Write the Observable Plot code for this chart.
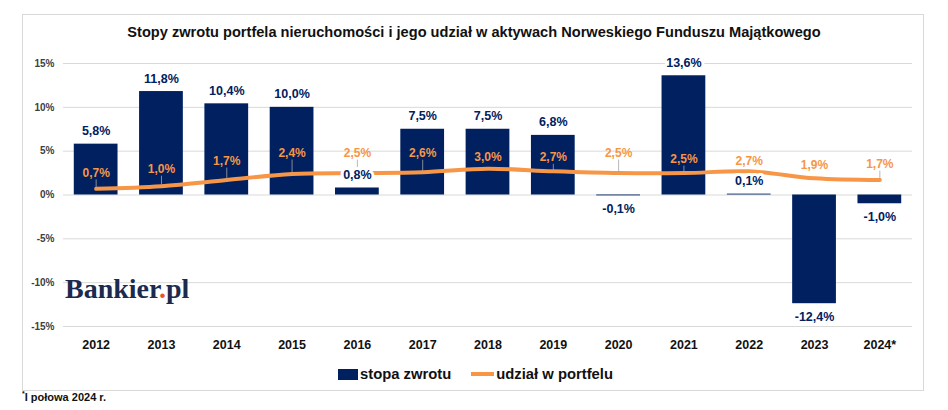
<!DOCTYPE html>
<html>
<head>
<meta charset="utf-8">
<script src="https://cdn.jsdelivr.net/npm/d3@7"></script>
<script src="https://cdn.jsdelivr.net/npm/@observablehq/plot@0.6"></script>
<style>
  html, body { margin: 0; padding: 0; background: #fff; }
  body { width: 948px; height: 410px; position: relative; overflow: hidden; font-family: "Liberation Sans", Arial, sans-serif; }
  #frame { position: absolute; left: 22px; top: 14px; width: 902px; height: 377px; border: 1px solid #d9d9d9; box-sizing: border-box; }
  #title { position: absolute; left: 0; width: 948px; top: 23px; text-align: center; font-size: 14.6px; font-weight: bold; color: #111; line-height: 18px; }
  #chart { position: absolute; left: 0; top: 45px; }
  #logo { position: absolute; left: 65px; top: 275px; font-family: "Liberation Serif", "DejaVu Serif", serif; font-weight: bold; font-size: 28px; line-height: 28px; color: #1b2a4e; letter-spacing: 0px; }
  #logo .dot { color: #e8532b; }
  #legend { position: absolute; left: 338px; top: 365px; display: flex; align-items: center; font-size: 14.8px; font-weight: bold; color: #111; line-height: 18px; }
  #legend .sw-bar { width: 20px; height: 11px; background: #002060; margin-right: 2px; }
  #legend .sw-line { width: 23px; height: 4px; background: #F79646; margin-left: 20px; margin-right: 2px; }
  #note { position: absolute; left: 22px; top: 390px; font-size: 11px; font-weight: bold; color: #111; }
  #note sup { font-size: 7px; }
</style>
</head>
<body>
<div id="frame"></div>
<div id="title">Stopy zwrotu portfela nieruchomości i jego udział w aktywach Norweskiego Funduszu Majątkowego</div>
<div id="chart"></div>
<div id="logo">Bankier<span class="dot">.</span>pl</div>
<div id="legend"><span class="sw-bar"></span><span>stopa zwrotu</span><span class="sw-line"></span><span>udział w portfelu</span></div>
<div id="note"><sup>*</sup>I połowa 2024 r.</div>
<script>
// ---- data ----
const years = ["2012","2013","2014","2015","2016","2017","2018","2019","2020","2021","2022","2023","2024*"];
const returns = [5.8, 11.8, 10.4, 10.0, 0.8, 7.5, 7.5, 6.8, -0.1, 13.6, 0.1, -12.4, -1.0];
const shares = [0.7, 1.0, 1.7, 2.4, 2.5, 2.6, 3.0, 2.7, 2.5, 2.5, 2.7, 1.9, 1.7];
const yTicks = [-15, -10, -5, 0, 5, 10, 15];

// ---- layout ----
const W = 948, H = 315, mTop = 18, mBottom = 34, mLeft = 63, mRight = 36;
const pxPerUnit = (H - mTop - mBottom) / 30;
const halfBar = 0.335;
const shareLabelDy = [-16, -17, -19, -21, -20, -19, -12, -14, -20, -14, -10, -13, -16];

const fmt = v => v.toFixed(1).replace(".", ",") + "%";
const rows = years.map((y, i) => ({i, year: y, ret: returns[i], share: shares[i], dy: shareLabelDy[i]}));
const leaders = rows.filter(d => -d.dy >= 14);

const navy = "#002060", orange = "#F79646";

const chart = Plot.plot({
  width: W, height: H,
  marginTop: mTop, marginBottom: mBottom, marginLeft: mLeft, marginRight: mRight,
  style: {fontFamily: "'Liberation Sans', Arial, sans-serif", background: "transparent"},
  x: {type: "linear", domain: [-0.5, years.length - 0.5], label: null},
  y: {domain: [-15, 15], label: null},
  marks: [
    Plot.gridY(yTicks, {stroke: "#d9d9d9", strokeOpacity: 1, strokeWidth: 1}),
    Plot.axisY(yTicks, {tickSize: 0, tickPadding: 9, tickFormat: d => d + "%", fontSize: 10, fontWeight: "bold", fill: "#404040", label: null}),
    Plot.axisX(d3.range(years.length), {tickSize: 0, tickPadding: 14, tickFormat: i => years[i], fontSize: 12.5, fontWeight: "bold", fill: "#111", label: null}),
    Plot.rectY(rows, {x1: d => d.i - halfBar, x2: d => d.i + halfBar, y1: 0, y2: "ret", fill: navy}),
    Plot.line(rows, {x: "i", y: "share", stroke: orange, strokeWidth: 4, curve: "catmull-rom"}),
    Plot.ruleX(leaders, {x: "i", y1: "share", y2: d => d.share - (d.dy + 7) / pxPerUnit, stroke: "#a6a6a6", strokeWidth: 0.8}),
    Plot.text(rows, {x: "i", y: d => d.share - d.dy / pxPerUnit, text: d => fmt(d.share), fill: orange, fontSize: 12, fontWeight: "bold"}),
    Plot.text(rows.filter(d => d.ret >= 0), {x: "i", y: "ret", dy: -13, text: d => fmt(d.ret), fill: navy, fontSize: 12.5, fontWeight: "bold", stroke: "white", strokeWidth: 6, paintOrder: "stroke"}),
    Plot.text(rows.filter(d => d.ret < 0), {x: "i", y: "ret", dy: 13, text: d => fmt(d.ret), fill: navy, fontSize: 12.5, fontWeight: "bold", stroke: "white", strokeWidth: 6, paintOrder: "stroke"})
  ]
});
document.getElementById("chart").appendChild(chart);
</script>
</body>
</html>
